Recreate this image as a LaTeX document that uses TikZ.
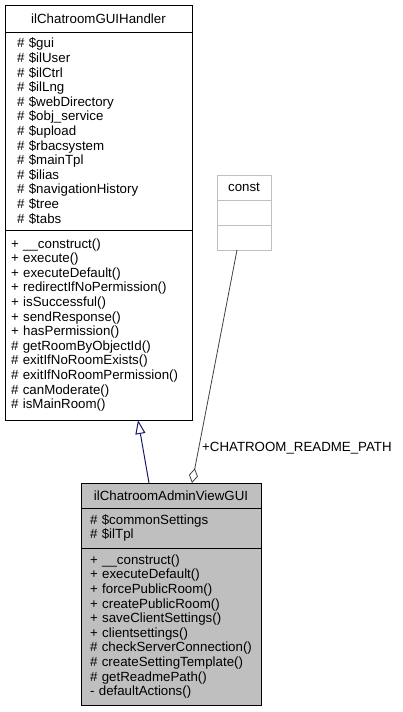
\documentclass[tikz,border=0pt]{standalone}
\usepackage{fontspec}
\setmainfont{Liberation Sans}
\usetikzlibrary{positioning,arrows.meta}
\definecolor{boxgray}{HTML}{BFBFBF}
\definecolor{edgegray}{HTML}{404040}
\definecolor{inhblue}{HTML}{191970}
\tikzstyle{part}=[draw, line width=1pt, outer sep=0pt, inner ysep=0pt, font=\fontsize{13.3}{14.6}\selectfont]
\tikzstyle{classtitle}=[part, inner xsep=0pt, align=center]
\tikzstyle{members}=[part, align=left]
\tikzstyle{faded}=[draw=boxgray]
\tikzstyle{current}=[fill=boxgray]
\tikzstyle{inherit}=[draw=inhblue, line width=1pt, -{Triangle[open, length=14pt, width=10pt]}]
\tikzstyle{aggregate}=[draw=edgegray, line width=0.8pt, -{Diamond[open, length=15pt, width=9pt]}]

\begin{document}
\begin{tikzpicture}[x=1pt, y=-1pt]
\useasboundingbox (0,0) rectangle (403,712);
% base class
\node[classtitle, minimum width=187pt, minimum height=27pt, anchor=north west] (handler) at (5,5) {ilChatroomGUIHandler};
\node[members, text width=163pt, inner xsep=12pt, minimum height=198pt, below=0pt of handler] (handlerattr)
 {\#~\$gui\\ \#~\$ilUser\\ \#~\$ilCtrl\\ \#~\$ilLng\\ \#~\$webDirectory\\ \#~\$obj\_service\\ \#~\$upload\\
  \#~\$rbacsystem\\ \#~\$mainTpl\\ \#~\$ilias\\ \#~\$navigationHistory\\ \#~\$tree\\ \#~\$tabs};
\node[members, text width=175pt, inner xsep=6pt, minimum height=190pt, below=0pt of handlerattr] (handlermeth)
 {+~\_\_construct()\\ +~execute()\\ +~executeDefault()\\ +~redirectIfNoPermission()\\ +~isSuccessful()\\
  +~sendResponse()\\ +~hasPermission()\\ \#~getRoomByObjectId()\\ \#~exitIfNoRoomExists()\\
  \#~exitIfNoRoomPermission()\\ \#~canModerate()\\ \#~isMainRoom()};

% const
\node[classtitle, faded, minimum width=54pt, minimum height=25pt, anchor=north west] (const) at (217,175) {const};
\node[classtitle, faded, minimum width=54pt, minimum height=25pt, below=0pt of const] (constattr) {};
\node[classtitle, faded, minimum width=54pt, minimum height=25pt, below=0pt of constattr] (constmeth) {};

% derived class
\node[classtitle, current, minimum width=180pt, minimum height=25pt, anchor=north west] (admin) at (81,483) {ilChatroomAdminViewGUI};
\node[members, current, text width=162pt, inner xsep=9pt, minimum height=40pt, below=0pt of admin] (adminattr)
 {\#~\$commonSettings\\ \#~\$ilTpl};
\node[members, current, text width=162pt, inner xsep=9pt, minimum height=157pt, below=0pt of adminattr] (adminmeth)
 {+~\_\_construct()\\ +~executeDefault()\\ +~forcePublicRoom()\\ +~createPublicRoom()\\ +~saveClientSettings()\\
  +~clientsettings()\\ \#~checkServerConnection()\\ \#~createSettingTemplate()\\ \#~getReadmePath()\\ -~defaultActions()};

\draw[inherit] ([xshift=-22pt]admin.north) -- ([xshift=39.5pt]handlermeth.south);
\draw[aggregate] ([xshift=-7pt]constmeth.south) -- node[pos=0.85, anchor=west, inner sep=3pt, font=\fontsize{13.3}{14.6}\selectfont] {+CHATROOM\_README\_PATH} ([xshift=21pt]admin.north);
\end{tikzpicture}
\end{document}
